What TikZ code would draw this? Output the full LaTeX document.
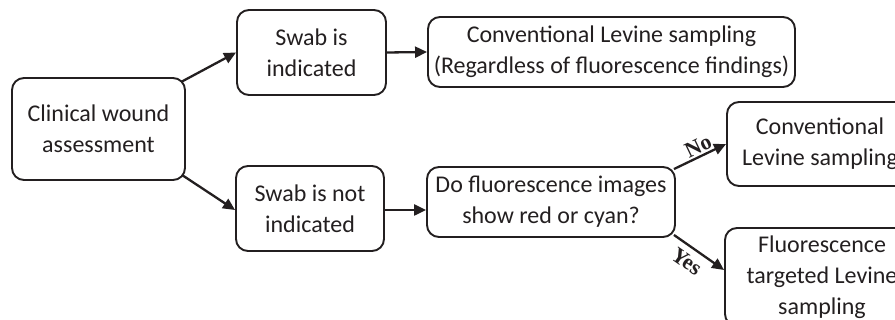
\documentclass[tikz,border=0pt]{standalone}
\usepackage{fontspec}
\setmainfont{Carlito}
\newfontfamily\lblfont{Liberation Serif}
\usetikzlibrary{arrows.meta,calc}
\definecolor{ink}{HTML}{231F20}
\tikzset{
  box/.style={draw=ink, line width=1.9pt, rounded corners=12pt, align=center,
    text=ink, inner sep=0pt, font=\fontsize{24}{31}\selectfont},
  arr/.style={draw=ink, line width=2.3pt, -{Triangle[length=12pt,width=11pt]}},
  lbl/.style={text=ink, font=\lblfont\bfseries\fontsize{22}{22}\selectfont, inner sep=0pt}
}
\begin{document}
\begin{tikzpicture}[x=1pt,y=-1pt]
\useasboundingbox (0,0) rectangle (895,320);
\clip (0,0) rectangle (895,320);
\node[box, minimum width=173pt, minimum height=102pt] (clin) at (98.5,129) {Clinical wound\\assessment};
\node[box, minimum width=149pt, minimum height=85pt] (ind) at (311.5,52.5) {Swab is\\indicated};
\node[box, minimum width=148pt, minimum height=85pt] (notind) at (310,208.5) {Swab is not\\indicated};
\node[box, minimum width=367pt, minimum height=70pt] (conv) at (611.5,52) {Conventional Levine sampling\\(Regardless of fluorescence findings)};
\node[box, minimum width=248pt, minimum height=70pt] (q) at (551,202) {Do fluorescence images\\show red or cyan?};
\node[box, minimum width=186pt, minimum height=84pt] (convR) at (820,144) {Conventional\\Levine sampling};
\node[box, minimum width=194pt, minimum height=98pt] (fluo) at (822,277) {Fluorescence\\targeted Levine\\sampling};

\draw[arr] ($(clin.north east)+(-5,5)$) -- (ind.west);
\draw[arr] ($(clin.south east)+(-4,-6)$) -- ($(notind.west)+(0,1.5)$);
\draw[arr] (ind.east) -- (conv.west);
\draw[arr] ($(notind.east)+(0,1.5)$) -- ($(q.west)+(0,8)$);
\draw[arr] ($(q.north east)+(-2,3)$) -- node[lbl, pos=0.55, above=2pt, sloped] (no) {No} (convR.west);
\draw[arr] ($(q.south east)+(-2,-3)$) -- node[lbl, pos=0.42, below=6pt, sloped] (yes) {Yes} ($(fluo.west)+(0,-7)$);
\end{tikzpicture}
\end{document}
